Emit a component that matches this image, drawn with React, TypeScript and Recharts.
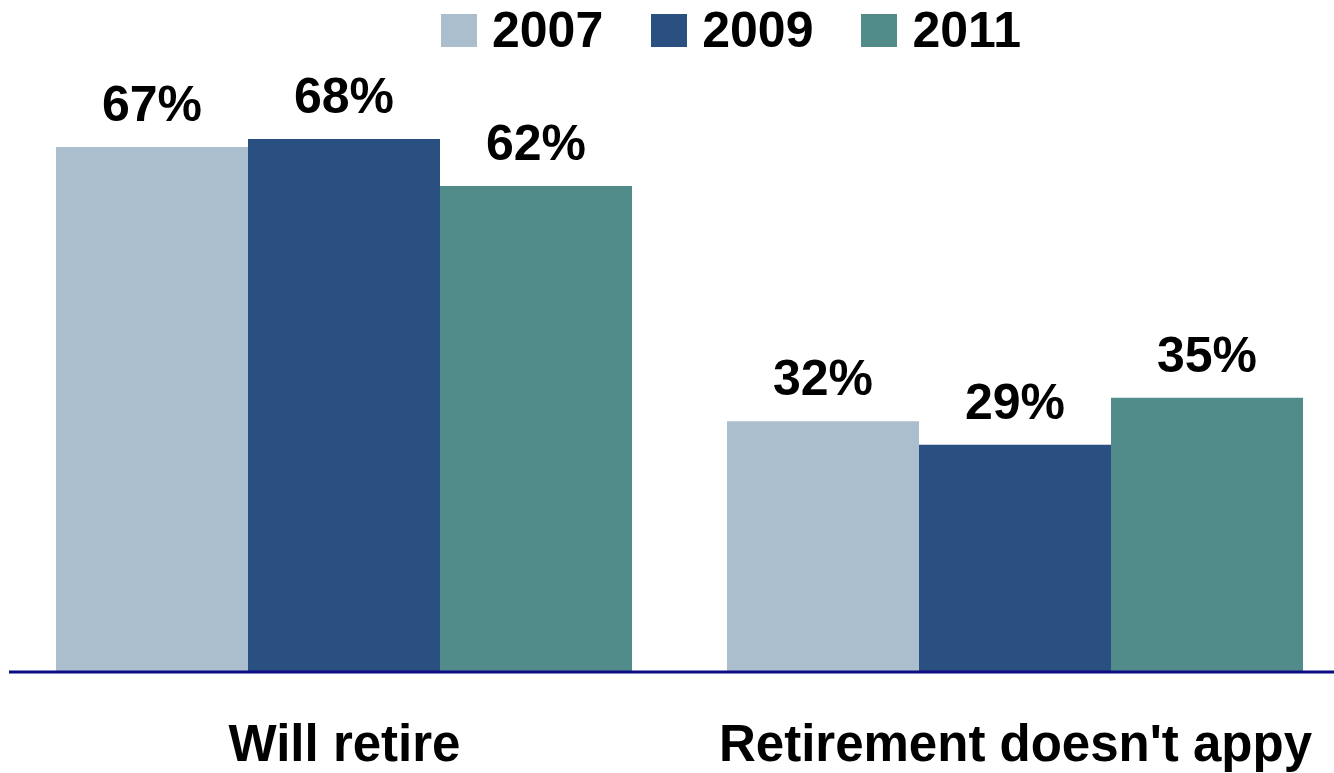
import { BarChart, Bar, XAxis, YAxis, LabelList } from 'recharts'

const categories = ['Will retire', "Retirement doesn't appy"]
const years = ['2007', '2009', '2011']
const values2007 = [67, 32]
const values2009 = [68, 29]
const values2011 = [62, 35]

const COLORS = ['#abbecd', '#2a5082', '#518c8a']
const FONT = '"Liberation Sans", Arial, sans-serif'

const data = categories.map((name, i) => ({
  name,
  y2007: values2007[i],
  y2009: values2009[i],
  y2011: values2011[i],
}))
const seriesKeys = ['y2007', 'y2009', 'y2011']

export default function App() {
  return (
    <div style={{ position: 'absolute', left: 0, top: 0, width: 1334, height: 773, overflow: 'hidden', background: '#fff', fontFamily: FONT }}>
      <BarChart
        width={1352}
        height={773}
        data={data}
        margin={{ top: 45, right: 1, bottom: 0, left: 9 }}
        barCategoryGap={47}
        barGap={0}
      >
        <YAxis hide domain={[0, 80]} />
        <XAxis
          dataKey="name"
          interval={0}
          height={101}
          tickLine={false}
          tickMargin={47}
          axisLine={{ stroke: '#0c0c84', strokeWidth: 3 }}
          tick={{ fill: '#000', fontSize: 51, fontWeight: 700, fontFamily: FONT }}
        />
        {seriesKeys.map((key, i) => (
          <Bar key={key} dataKey={key} name={years[i]} fill={COLORS[i]} isAnimationActive={false}>
            <LabelList
              dataKey={key}
              position="top"
              offset={26}
              formatter={(v: number) => `${v}%`}
              style={{ fill: '#000', fontSize: 50, fontWeight: 700, fontFamily: FONT }}
            />
          </Bar>
        ))}
      </BarChart>

      {/* legend sits above the plot, off-centre like the original */}
      <div style={{ position: 'absolute', top: 0, left: 441, display: 'flex', gap: 48 }}>
        {years.map((y, i) => (
          <div key={y} style={{ display: 'flex', alignItems: 'flex-start' }}>
            <div style={{ width: 36, height: 33, marginTop: 14, background: COLORS[i] }} />
            <span style={{ marginLeft: 15, marginTop: 5, fontSize: 50, lineHeight: '50px', fontWeight: 700, color: '#000' }}>
              {y}
            </span>
          </div>
        ))}
      </div>
    </div>
  )
}
